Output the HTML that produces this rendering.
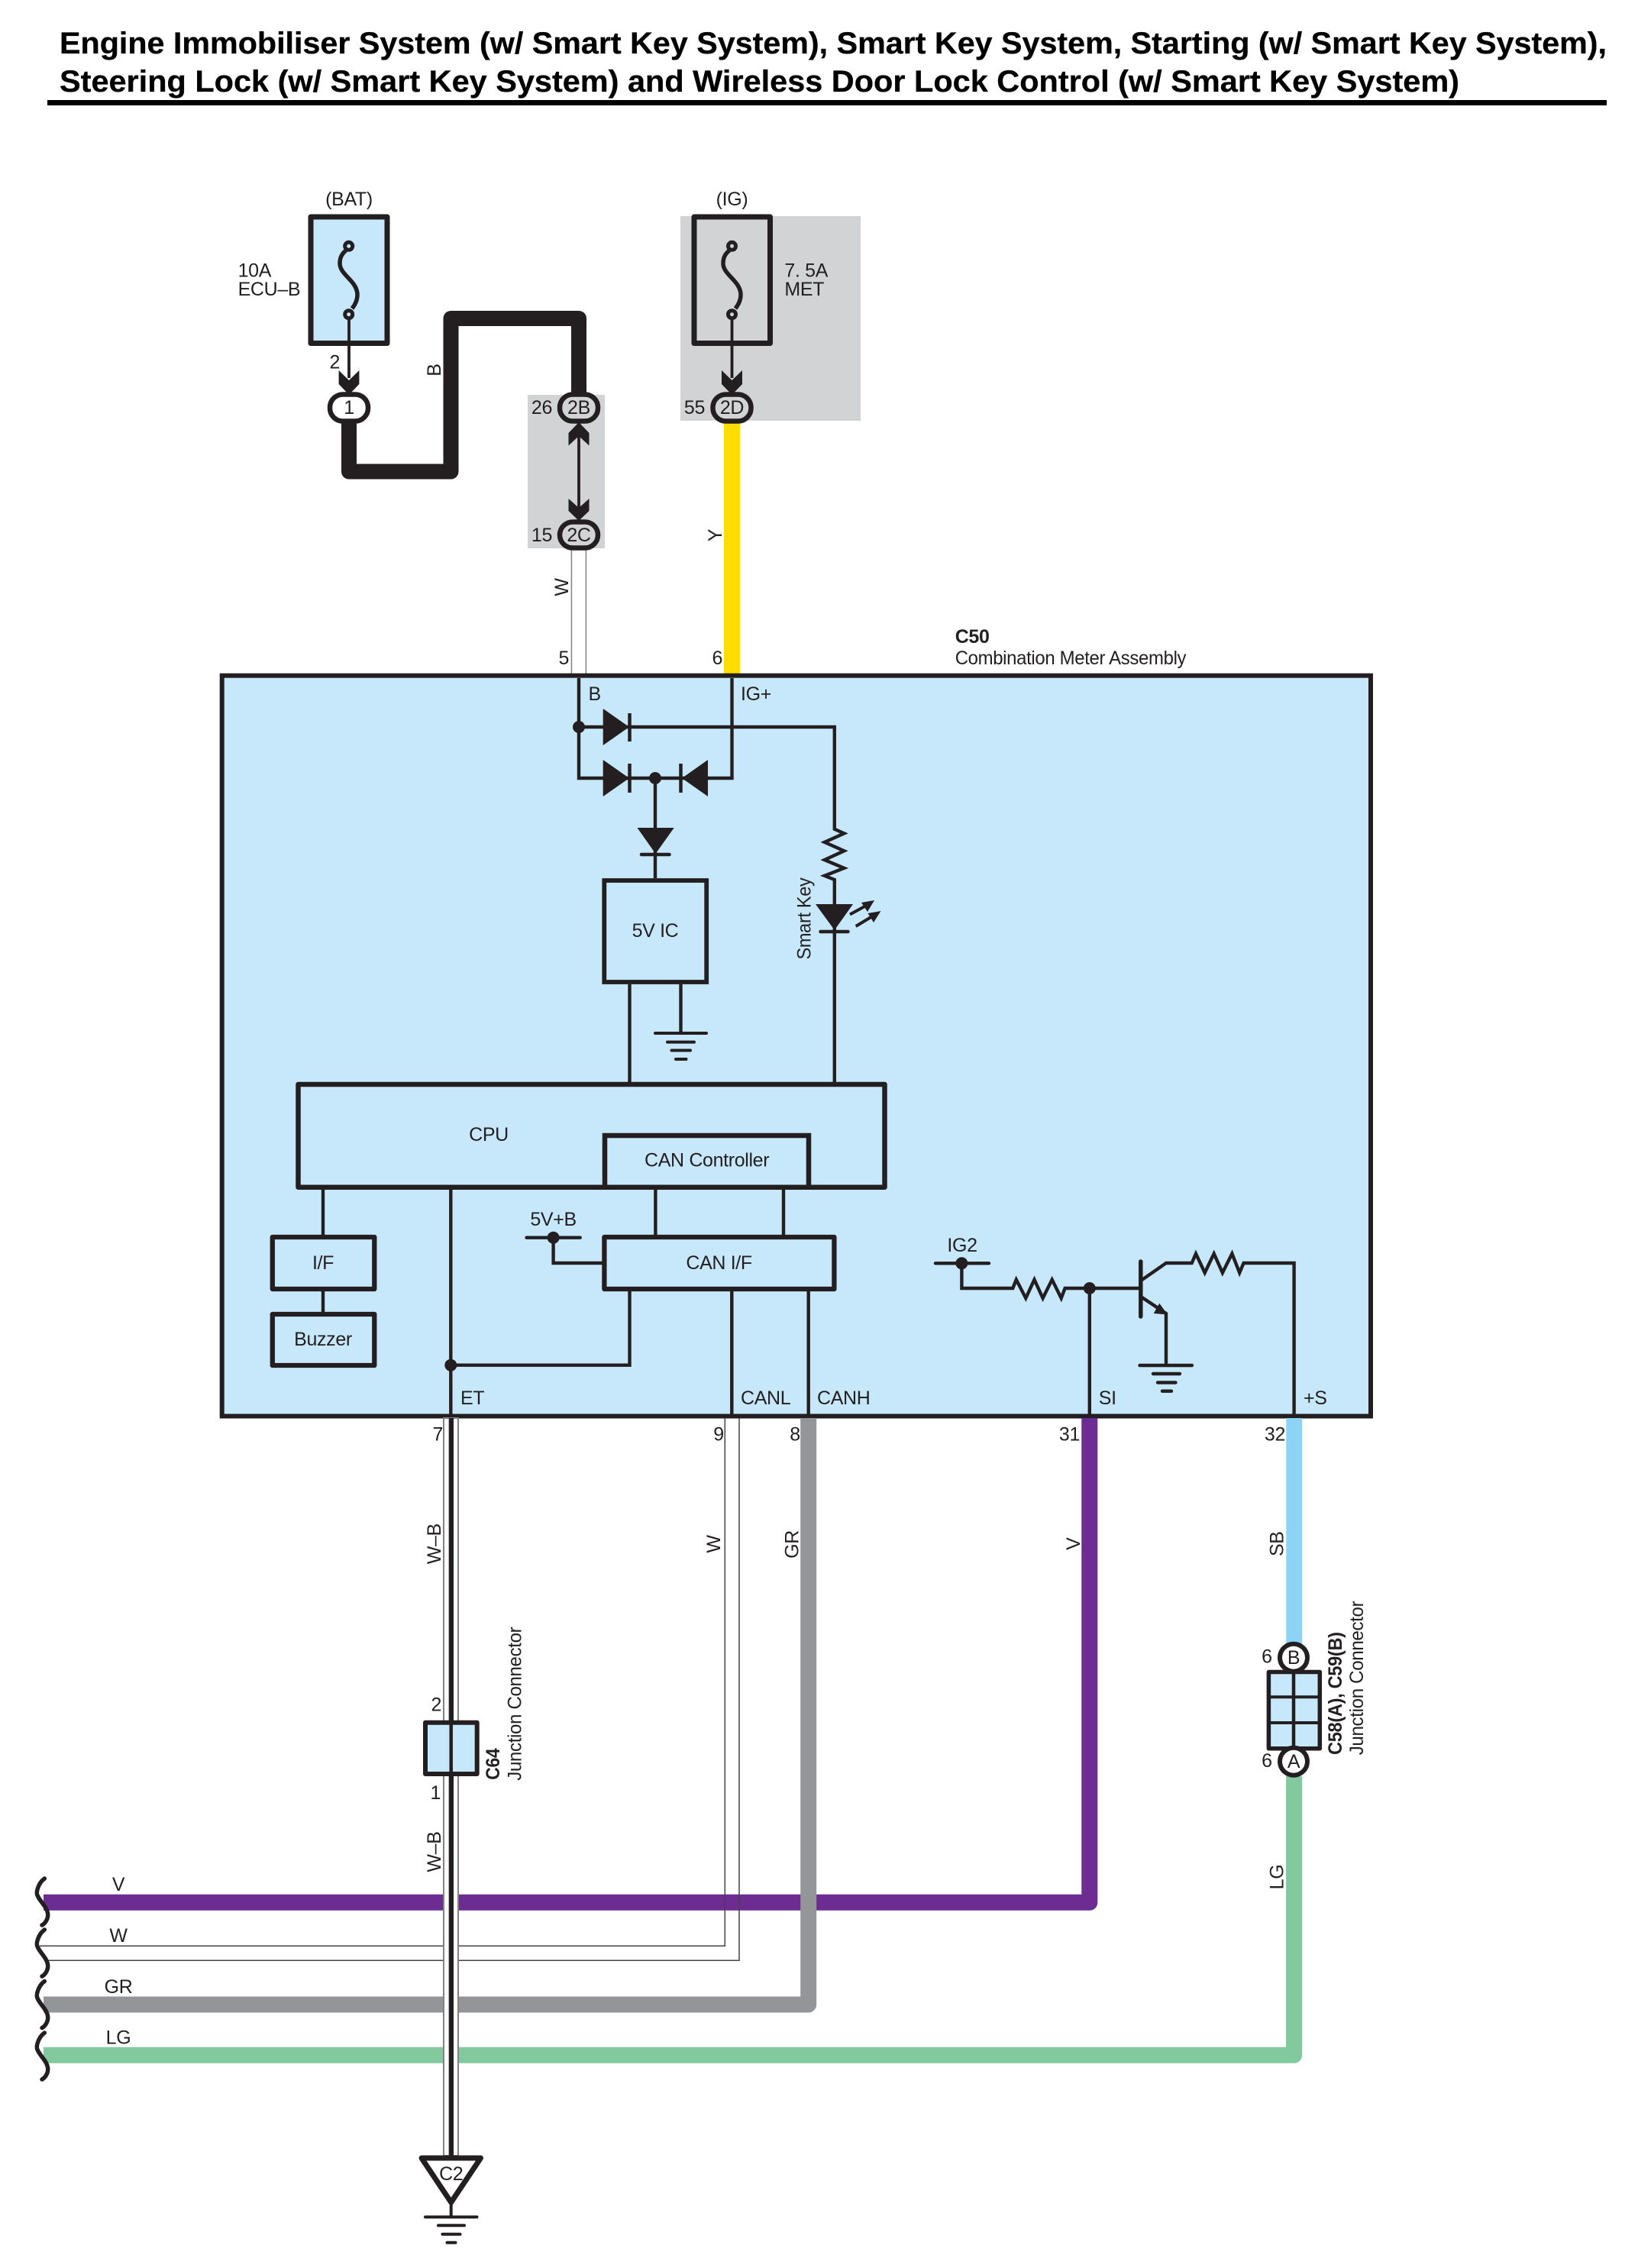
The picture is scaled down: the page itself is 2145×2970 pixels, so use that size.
<!DOCTYPE html>
<html>
<head>
<meta charset="utf-8">
<title>Engine Immobiliser System Wiring Diagram</title>
<style>
html,body{margin:0;padding:0;background:#fff;}
svg{display:block;}
text{font-family:"Liberation Sans",sans-serif;font-size:25px;letter-spacing:-0.35px;fill:#231F20;}
.t{font-weight:bold;font-size:40px;letter-spacing:0;fill:#000;stroke:#000;stroke-width:0.3px;}
.b{font-weight:bold;}
.m{text-anchor:middle;}
.e{text-anchor:end;}
.l{fill:none;stroke:#231F20;stroke-width:4.4;stroke-linejoin:miter;}
.d{fill:#231F20;stroke:none;}
</style>
</head>
<body>
<svg xmlns="http://www.w3.org/2000/svg" width="2145" height="2970" viewBox="0 0 2145 2970">
<rect width="2145" height="2970" fill="#fff"/>

<!-- Title -->
<text class="t" x="78" y="70" textLength="2026" lengthAdjust="spacingAndGlyphs">Engine Immobiliser System (w/ Smart Key System), Smart Key System, Starting (w/ Smart Key System),</text>
<text class="t" x="78" y="120" textLength="1833" lengthAdjust="spacingAndGlyphs">Steering Lock (w/ Smart Key System) and Wireless Door Lock Control (w/ Smart Key System)</text>
<rect x="62" y="131" width="2042" height="7" fill="#000"/>

<!-- Gray areas -->
<rect x="891" y="283" width="236" height="268" fill="#D1D3D4"/>
<rect x="691" y="517" width="101" height="201" fill="#D1D3D4"/>

<!-- BAT fuse -->
<text class="m" x="457" y="269">(BAT)</text>
<rect x="407" y="284" width="100" height="165.500" fill="#C7E8FB" stroke="#231F20" stroke-width="7" stroke-linejoin="round"/>
<path d="M453 328C447 333 445 338 445 345C445 360 468 368 468 386C468 393 465 399 461 404" fill="none" stroke="#231F20" stroke-width="5.500"/>
<circle cx="456.700" cy="322.300" r="5" fill="#C7E8FB" stroke="#231F20" stroke-width="5"/>
<circle cx="456.700" cy="411.700" r="5" fill="#C7E8FB" stroke="#231F20" stroke-width="5"/>
<line x1="457" y1="416" x2="457" y2="495" stroke="#231F20" stroke-width="3.800"/>
<polygon class="d" points="443.600,485 457,498 470.400,485 470.400,503 457,517 443.600,503"/>
<text x="311.600" y="362.600">10A</text>
<text x="311.600" y="387">ECU–B</text>
<text class="e" x="445" y="482.500">2</text>

<!-- IG fuse -->
<text class="m" x="958.500" y="269">(IG)</text>
<rect x="909" y="284" width="99.500" height="165.500" fill="none" stroke="#231F20" stroke-width="7" stroke-linejoin="round"/>
<path d="M955 328C949 333 947 338 947 345C947 360 970 368 970 386C970 393 967 399 963 404" fill="none" stroke="#231F20" stroke-width="5.500"/>
<circle cx="958.500" cy="322.300" r="5" fill="#D1D3D4" stroke="#231F20" stroke-width="5"/>
<circle cx="958.500" cy="411.700" r="5" fill="#D1D3D4" stroke="#231F20" stroke-width="5"/>
<line x1="958.500" y1="416" x2="958.500" y2="495" stroke="#231F20" stroke-width="3.800"/>
<polygon class="d" points="945,485 958.500,498 972,485 972,503 958.500,517 945,503"/>
<text x="1027.400" y="362.600">7. 5A</text>
<text x="1027.400" y="387">MET</text>

<!-- Upper wires -->
<path d="M457 550V617.500H590.500V417H758V530" fill="none" stroke="#231F20" stroke-width="20" stroke-linejoin="round"/>
<text class="m" transform="translate(577 484.600) rotate(-90)">B</text>

<line x1="758" y1="565" x2="758" y2="670" stroke="#231F20" stroke-width="3.800"/>
<polygon class="d" points="758,553 771.500,567 771.500,583.500 758,571 744.500,583.500 744.500,567"/>
<polygon class="d" points="744.500,653 758,665 771.500,653 771.500,669 758,682 744.500,669"/>

<rect x="748.400" y="718" width="19" height="165" fill="#fff" stroke="#808285" stroke-width="1.500"/>
<text class="m" transform="translate(744 769) rotate(-90)">W</text>
<text class="e" x="745" y="870">5</text>

<rect x="948" y="552" width="21" height="331" fill="#FFDD00"/>
<text class="m" transform="translate(945 701) rotate(-90)">Y</text>
<text class="e" x="946" y="870">6</text>

<!-- Connectors -->
<rect x="432" y="516.500" width="50" height="35" rx="17" fill="#fff" stroke="#231F20" stroke-width="6.500"/>
<text class="m" x="457" y="542">1</text>
<rect x="733" y="516.500" width="50" height="35" rx="17" fill="#D1D3D4" stroke="#231F20" stroke-width="6.500"/>
<text class="m" x="758" y="542">2B</text>
<text class="e" x="723" y="542">26</text>
<rect x="733" y="683.500" width="50" height="34" rx="17" fill="#D1D3D4" stroke="#231F20" stroke-width="6.500"/>
<text class="m" x="758" y="709">2C</text>
<text class="e" x="723" y="709">15</text>
<rect x="933.500" y="516.500" width="50" height="35" rx="17" fill="#D1D3D4" stroke="#231F20" stroke-width="6.500"/>
<text class="m" x="958.500" y="542">2D</text>
<text class="e" x="923" y="542">55</text>

<!-- C50 -->
<text class="b" x="1250.700" y="842">C50</text>
<text x="1250.700" y="870" textLength="302.500" lengthAdjust="spacingAndGlyphs">Combination Meter Assembly</text>
<rect x="290.700" y="884.700" width="1504.300" height="969.800" fill="#C7E8FB" stroke="#231F20" stroke-width="6"/>

<!-- Internal top -->
<text x="770.500" y="917">B</text>
<text x="970" y="917">IG+</text>
<path class="l" d="M758 888V1019H958.500V888"/>
<path class="l" d="M758 952H1092.800V1085.700L1105.400 1091.400L1079.800 1102.900L1105.400 1114.300L1079.800 1126L1105.400 1136.800L1079.800 1146.800L1092.800 1152V1417"/>
<circle class="d" cx="758" cy="952" r="8"/>
<circle class="d" cx="858" cy="1019" r="8"/>
<polygon class="d" points="789.700,928 824,952 789.700,976"/>
<line x1="824.500" y1="934" x2="824.500" y2="971" stroke="#231F20" stroke-width="4.500"/>
<polygon class="d" points="789.700,995 824,1019 789.700,1043"/>
<line x1="824.500" y1="1000" x2="824.500" y2="1038" stroke="#231F20" stroke-width="4.500"/>
<polygon class="d" points="927,995 893,1019 927,1043"/>
<line x1="891.500" y1="1000" x2="891.500" y2="1038" stroke="#231F20" stroke-width="4.500"/>
<line class="l" x1="858" y1="1019" x2="858" y2="1150"/>
<polygon class="d" points="834.500,1084 882.700,1084 858.500,1118"/>
<line x1="840" y1="1119" x2="876.500" y2="1119" stroke="#231F20" stroke-width="4.500" stroke-linecap="round"/>

<!-- 5V IC -->
<rect x="791.300" y="1153" width="133.900" height="133" fill="none" stroke="#231F20" stroke-width="5.800"/>
<text class="m" x="858" y="1227">5V IC</text>
<line class="l" x1="824.500" y1="1289" x2="824.500" y2="1417"/>
<line class="l" x1="891.500" y1="1289" x2="891.500" y2="1353"/>
<g stroke="#231F20" stroke-width="4" stroke-linecap="round">
<line x1="858" y1="1353" x2="925" y2="1353"/>
<line x1="874" y1="1364.600" x2="909" y2="1364.600"/>
<line x1="879.500" y1="1375.500" x2="904" y2="1375.500"/>
<line x1="885" y1="1387" x2="898.500" y2="1387"/>
</g>

<!-- LED -->
<polygon class="d" points="1068,1184 1117,1184 1092.800,1218"/>
<line x1="1074.500" y1="1220" x2="1110.500" y2="1220" stroke="#231F20" stroke-width="4.500" stroke-linecap="round"/>
<g stroke="#231F20" stroke-width="4">
<line x1="1113" y1="1197.500" x2="1135" y2="1185.500"/>
<line x1="1120.700" y1="1213" x2="1143" y2="1199.500"/>
</g>
<polygon class="d" points="1145,1179 1136,1194 1128,1182"/>
<polygon class="d" points="1153.500,1193 1144,1208 1136.500,1196"/>
<text class="m" transform="translate(1061.400 1203) rotate(-90)" textLength="107" lengthAdjust="spacingAndGlyphs">Smart Key</text>

<!-- CPU -->
<rect x="390.500" y="1420" width="768" height="134.700" fill="none" stroke="#231F20" stroke-width="6.500" stroke-linejoin="round"/>
<text class="m" x="640" y="1494">CPU</text>
<path d="M792 1554V1487H1059V1554" fill="none" stroke="#231F20" stroke-width="6.500"/>
<text class="m" x="925.600" y="1527.700">CAN Controller</text>

<!-- Lower internal -->
<line class="l" x1="423" y1="1557" x2="423" y2="1620"/>
<line class="l" x1="423" y1="1688" x2="423" y2="1721"/>
<line class="l" x1="590.300" y1="1557" x2="590.300" y2="1852"/>
<line class="l" x1="858.400" y1="1557" x2="858.400" y2="1620"/>
<line class="l" x1="1026" y1="1557" x2="1026" y2="1620"/>
<rect x="356.800" y="1620" width="133.500" height="68" fill="none" stroke="#231F20" stroke-width="6.300" stroke-linejoin="round"/>
<text class="m" x="423" y="1662">I/F</text>
<rect x="356.800" y="1721" width="133.500" height="67" fill="none" stroke="#231F20" stroke-width="6.300" stroke-linejoin="round"/>
<text class="m" x="423" y="1762">Buzzer</text>
<rect x="791.400" y="1620" width="301" height="68" fill="none" stroke="#231F20" stroke-width="6.300" stroke-linejoin="round"/>
<text class="m" x="941.600" y="1662">CAN I/F</text>

<text class="m" x="724.600" y="1605">5V+B</text>
<line x1="689.600" y1="1620.700" x2="759.700" y2="1620.700" stroke="#231F20" stroke-width="4.400" stroke-linecap="round"/>
<circle class="d" cx="724.600" cy="1620.700" r="8"/>
<path class="l" d="M724.600 1620.700V1654H790"/>
<path class="l" d="M824.500 1690V1787.700H590.300"/>
<circle class="d" cx="590.300" cy="1787.700" r="8"/>
<line class="l" x1="958.300" y1="1690" x2="958.300" y2="1852"/>
<line class="l" x1="1058.700" y1="1690" x2="1058.700" y2="1852"/>
<text x="603" y="1839">ET</text>
<text x="970" y="1839">CANL</text>
<text x="1070" y="1839">CANH</text>

<!-- IG2 and transistor -->
<text class="m" x="1260" y="1639">IG2</text>
<line x1="1225" y1="1654.300" x2="1295" y2="1654.300" stroke="#231F20" stroke-width="4.400" stroke-linecap="round"/>
<circle class="d" cx="1259.400" cy="1654.300" r="8"/>
<path class="l" d="M1259.400 1654.300V1687H1326.300L1330.800 1675.700L1343.300 1700L1354.500 1675.700L1365.600 1700L1377.700 1675.700L1389.700 1700L1394.600 1687H1493.800"/>
<circle class="d" cx="1426.800" cy="1687" r="8"/>
<line class="l" x1="1426.800" y1="1687" x2="1426.800" y2="1852"/>
<line x1="1493.800" y1="1652" x2="1493.800" y2="1724" stroke="#231F20" stroke-width="5.500" stroke-linecap="round"/>
<path class="l" d="M1494 1677L1527 1654H1560.700L1566 1641.700L1577.700 1666.700L1589.700 1641.700L1600.900 1666.700L1613.400 1641.700L1623.200 1666.700L1628.600 1654H1694.600V1852"/>
<path class="l" d="M1494 1698L1527 1720V1788"/>
<polygon class="d" points="1518.300,1706.700 1529,1721.500 1510.700,1720"/>
<g stroke="#231F20" stroke-width="4.400" stroke-linecap="round">
<line x1="1492.500" y1="1788" x2="1561" y2="1788"/>
<line x1="1510" y1="1799" x2="1545" y2="1799"/>
<line x1="1516" y1="1810.500" x2="1539.500" y2="1810.500"/>
<line x1="1522" y1="1821.700" x2="1534" y2="1821.700"/>
</g>
<text x="1438.800" y="1839">SI</text>
<text x="1707" y="1839">+S</text>

<!-- Lower wires -->
<path d="M57 2491.300H1426.800V1857" fill="none" stroke="#6D2C91" stroke-width="21" stroke-linejoin="round"/>
<path d="M52 2548.300H949.300V1857" fill="none" stroke="#444" stroke-width="1.500"/>
<path d="M62 2567.300H968V1857" fill="none" stroke="#444" stroke-width="1.500"/>
<path d="M57 2625H1058.700V1857" fill="none" stroke="#939598" stroke-width="21" stroke-linejoin="round"/>
<path d="M57 2691.300H1694.600V2326" fill="none" stroke="#82C99D" stroke-width="21" stroke-linejoin="round"/>
<rect x="1684.300" y="1857" width="20.700" height="295" fill="#8DD3F6"/>

<!-- W-B wire -->
<rect x="581" y="1857" width="19" height="966" fill="#fff" stroke="#808285" stroke-width="2"/>
<rect x="587.700" y="1857" width="6.300" height="966" fill="#231F20"/>

<!-- Pin labels -->
<text class="e" x="580" y="1886.700">7</text>
<text class="e" x="947.800" y="1886.700">9</text>
<text class="e" x="1047.800" y="1886.700">8</text>
<text class="e" x="1414" y="1886.700">31</text>
<text class="e" x="1683" y="1886.700">32</text>
<text class="m" transform="translate(577 2021.700) rotate(-90)">W–B</text>
<text class="m" transform="translate(577 2425) rotate(-90)">W–B</text>
<text class="m" transform="translate(943 2022) rotate(-90)">W</text>
<text class="m" transform="translate(1045.500 2022.500) rotate(-90)">GR</text>
<text class="m" transform="translate(1414 2021.700) rotate(-90)">V</text>
<text class="m" transform="translate(1680.600 2021.700) rotate(-90)">SB</text>
<text class="m" transform="translate(1680.600 2458) rotate(-90)">LG</text>

<!-- C64 -->
<rect x="557" y="2255.700" width="67.700" height="67.300" fill="#C7E8FB" stroke="#231F20" stroke-width="6" stroke-linejoin="round"/>
<line x1="590.700" y1="2253" x2="590.700" y2="2326" stroke="#231F20" stroke-width="4.500"/>
<text class="e" x="578" y="2240.700">2</text>
<text class="e" x="577" y="2356">1</text>
<text class="b" transform="translate(654 2330.700) rotate(-90)" textLength="41" lengthAdjust="spacingAndGlyphs">C64</text>
<text transform="translate(682.700 2331.700) rotate(-90)" textLength="201" lengthAdjust="spacingAndGlyphs">Junction Connector</text>

<!-- C58/C59 -->
<rect x="1661.400" y="2189.500" width="66.900" height="100.200" fill="#C7E8FB" stroke="#231F20" stroke-width="5.500" stroke-linejoin="round"/>
<line x1="1694" y1="2188" x2="1694" y2="2291" stroke="#231F20" stroke-width="4.500"/>
<line x1="1661" y1="2222.300" x2="1728" y2="2222.300" stroke="#231F20" stroke-width="4"/>
<line x1="1661" y1="2256" x2="1728" y2="2256" stroke="#231F20" stroke-width="4"/>
<circle cx="1694" cy="2170.700" r="18" fill="#fff" stroke="#231F20" stroke-width="6"/>
<circle cx="1694" cy="2306.700" r="18" fill="#fff" stroke="#231F20" stroke-width="6"/>
<text class="m" x="1694" y="2179">B</text>
<text class="m" x="1694" y="2315">A</text>
<text class="e" x="1665.700" y="2177.700">6</text>
<text class="e" x="1665.700" y="2314">6</text>
<text class="b" transform="translate(1757 2298) rotate(-90)" textLength="160.700" lengthAdjust="spacingAndGlyphs">C58(A), C59(B)</text>
<text transform="translate(1785 2298.300) rotate(-90)" textLength="201.600" lengthAdjust="spacingAndGlyphs">Junction Connector</text>

<!-- Left wavy ends -->
<g fill="none" stroke="#231F20" stroke-width="5.500" stroke-linecap="round">
<path d="M58.300 2460C50 2466 47 2478 49 2482C52 2490 62 2497 62.700 2507C63 2513 59 2519 55 2521"/>
<path d="M58.300 2527C50 2533 47 2545 49 2549C52 2557 62 2564 62.700 2574C63 2580 59 2586 55 2588"/>
<path d="M58.300 2594.500C50 2600.500 47 2612.500 49 2616.500C52 2624.500 62 2631.500 62.700 2641.500C63 2647.500 59 2653.500 55 2655.500"/>
<path d="M58.300 2662C50 2668 47 2680 49 2684C52 2692 62 2699 62.700 2709C63 2715 59 2721 55 2723"/>
</g>
<text class="m" x="155" y="2476">V</text>
<text class="m" x="155" y="2543">W</text>
<text class="m" x="155" y="2610">GR</text>
<text class="m" x="155" y="2676.700">LG</text>

<!-- Ground C2 -->
<polygon points="552,2826 629.500,2826 590.700,2884" fill="#fff" stroke="#231F20" stroke-width="7" stroke-linejoin="round"/>
<text class="m" x="590.700" y="2855">C2</text>
<line x1="590.700" y1="2884" x2="590.700" y2="2903" stroke="#231F20" stroke-width="4"/>
<g stroke="#231F20" stroke-width="4" stroke-linecap="round">
<line x1="557" y1="2903.300" x2="624.500" y2="2903.300"/>
<line x1="574" y1="2914.300" x2="608" y2="2914.300"/>
<line x1="579.500" y1="2925.700" x2="602.500" y2="2925.700"/>
<line x1="585.500" y1="2936.700" x2="596.500" y2="2936.700"/>
</g>
</svg>
</body>
</html>
